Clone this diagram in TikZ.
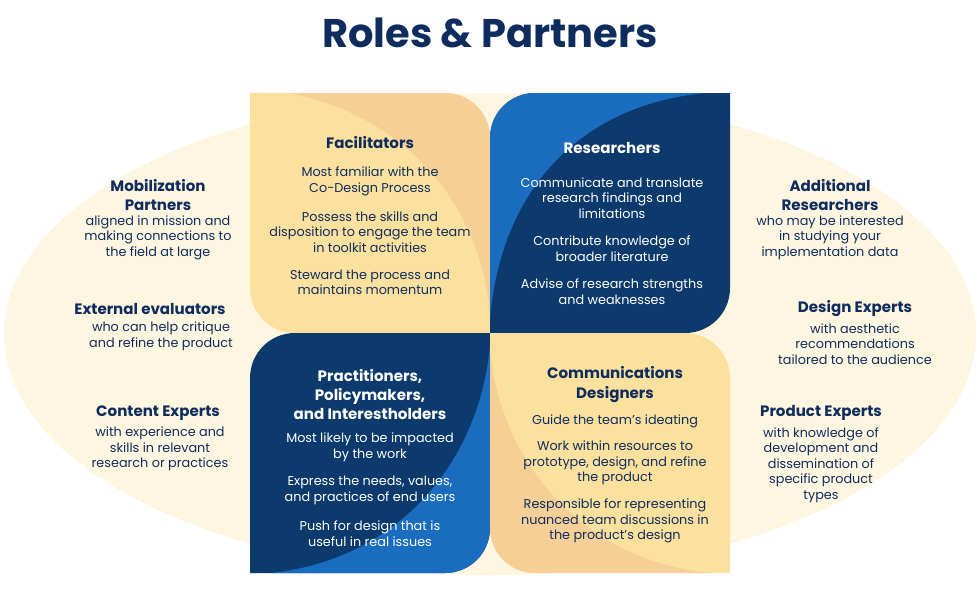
\documentclass[tikz,border=0pt]{standalone}
\usepackage{fontspec}
\setmainfont{Poppins}
\definecolor{bgE}{HTML}{FEF6E0}
\definecolor{yel}{HTML}{FBE09E}
\definecolor{ora}{HTML}{F6CF97}
\definecolor{dblue}{HTML}{0C3A6C}
\definecolor{lblue}{HTML}{1A6DBE}
\definecolor{navy}{HTML}{0E2D5E}
\tikzset{
 head/.style={align=center,text=navy,font=\fontsize{11.3}{14.6}\selectfont\bfseries},
 body/.style={align=center,text=navy,font=\fontsize{9.6}{11.6}\selectfont},
 headw/.style={head,text=white},
 bodyw/.style={body,text=white},
}
\begin{document}
\begin{tikzpicture}[x=0.75pt,y=-0.75pt]
\useasboundingbox (0,0) rectangle (980,590);
\fill[white] (0,0) rectangle (980,590);
\fill[bgE] (490,334) ellipse [x radius=486, y radius=241];
% quadrants
\path[fill=yel] (250,93) -- (445,93) .. controls (470,93) and (490,113) .. (490,138) -- (490,333) -- (295,333) .. controls (270,333) and (250,313) .. (250,288) -- cycle;
\begin{scope}
\clip (250,93) -- (445,93) .. controls (470,93) and (490,113) .. (490,138) -- (490,333) -- (295,333) .. controls (270,333) and (250,313) .. (250,288) -- cycle;
\fill[ora] (290,93) .. controls (420,120) and (485,220) .. (490,320) -- (490,93) -- cycle;
\end{scope}
\path[fill=dblue] (535,93) -- (730,93) -- (730,288) .. controls (730,313) and (710,333) .. (685,333) -- (490,333) -- (490,138) .. controls (490,113) and (510,93) .. (535,93) -- cycle;
\begin{scope}
\clip (535,93) -- (730,93) -- (730,288) .. controls (730,313) and (710,333) .. (685,333) -- (490,333) -- (490,138) .. controls (490,113) and (510,93) .. (535,93) -- cycle;
\fill[lblue] (490,320) .. controls (500,190) and (580,105) .. (705,93) -- (490,93) -- cycle;
\end{scope}
\path[fill=dblue] (295,333) -- (490,333) -- (490,528) .. controls (490,553) and (470,573) .. (445,573) -- (250,573) -- (250,378) .. controls (250,353) and (270,333) .. (295,333) -- cycle;
\begin{scope}
\clip (295,333) -- (490,333) -- (490,528) .. controls (490,553) and (470,573) .. (445,573) -- (250,573) -- (250,378) .. controls (250,353) and (270,333) .. (295,333) -- cycle;
\fill[lblue] (490,345) .. controls (480,460) and (400,560) .. (270,573) -- (490,573) -- cycle;
\end{scope}
\path[fill=yel] (490,333) -- (685,333) .. controls (710,333) and (730,353) .. (730,378) -- (730,573) -- (535,573) .. controls (510,573) and (490,553) .. (490,528) -- cycle;
\begin{scope}
\clip (490,333) -- (685,333) .. controls (710,333) and (730,353) .. (730,378) -- (730,573) -- (535,573) .. controls (510,573) and (490,553) .. (490,528) -- cycle;
\fill[ora] (490,350) .. controls (500,460) and (580,560) .. (710,573) -- (490,573) -- cycle;
\end{scope}
% title
\node[text=navy,font=\fontsize{30}{36}\selectfont\bfseries] (title) at (490,33) {Roles \& Partners};
% TL
\node[head] (fh) at (370,143) {Facilitators};
\node[body] (f1) at (370,181.5) {Most familiar with the\\Co-Design Process};
\node[body] (f2) at (370,232) {Possess the skills and\\disposition to engage the team\\in toolkit activities};
\node[body] (f3) at (370,282.5) {Steward the process and\\maintains momentum};
% TR
\node[headw] (rh) at (612,148) {Researchers};
\node[bodyw] (r1) at (612,198) {Communicate and translate\\research findings and\\limitations};
\node[bodyw] (r2) at (612,248.5) {Contribute knowledge of\\broader literature};
\node[bodyw] (r3) at (612,291.5) {Advise of research strengths\\and weaknesses};
% BL
\node[headw,text height=] (ph) at (370,394.5) {Practitioners,\\Policymakers,\\and Interestholders};
\node[bodyw] (p1) at (370,447.5) {Most likely to be impacted\\by the work};
\node[bodyw] (p2) at (370,490.5) {Express the needs, values,\\and practices of end users};
\node[bodyw] (p3) at (370,533.5) {Push for design that is\\useful in real issues};
% BR
\node[head] (ch) at (615,384.5) {Communications\\Designers};
\node[body] (c1) at (615,421) {Guide the team’s ideating};
\node[body] (c2) at (615,463) {Work within resources to\\prototype, design, and refine\\the product};
\node[body] (c3) at (615,521) {Responsible for representing\\nuanced team discussions in\\the product’s design};
% left column
\node[head] (mh) at (158,195) {Mobilization\\Partners};
\node[body] (m1) at (158,237.5) {aligned in mission and\\making connections to\\the field at large};
\node[head] (eh) at (150,309) {External evaluators};
\node[body] (e1) at (161,336.5) {who can help critique\\and refine the product};
\node[head] (kh) at (158,413) {Content Experts};
\node[body] (k1) at (160,449) {with experience and\\skills in relevant\\research or practices};
% right column
\node[head] (ah) at (830,195) {Additional\\Researchers};
\node[body] (a1) at (830,237.5) {who may be interested\\in studying your\\implementation data};
\node[head] (dh) at (855,309) {Design Experts};
\node[body] (d1) at (855,344) {with aesthetic\\recommendations\\tailored to the audience};
\node[head] (xh) at (821,413) {Product Experts};
\node[body] (x1) at (821,465) {with knowledge of\\development and\\dissemination of\\specific product\\types};
\end{tikzpicture}
\end{document}
